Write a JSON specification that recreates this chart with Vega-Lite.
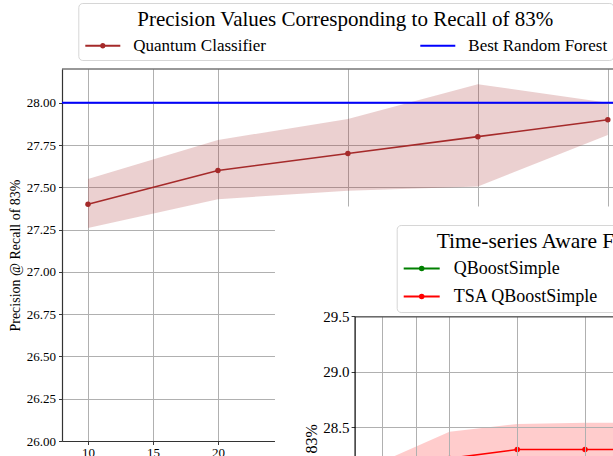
{
  "$schema": "https://vega.github.io/schema/vega-lite/v6.json",
  "width": 551,
  "height": 372,
  "autosize": {"type": "none"},
  "padding": {"left": 62, "top": 69, "right": 0, "bottom": 15},
  "background": "white",
  "config": {
    "view": {"stroke": null},
    "font": "Liberation Serif",
    "axis": {
      "labelFont": "Liberation Serif",
      "titleFont": "Liberation Serif",
      "labelColor": "#000",
      "titleColor": "#000",
      "titleFontWeight": "normal",
      "tickColor": "#222",
      "tickSize": 3.5,
      "tickWidth": 0.9,
      "gridColor": "#b0b0b0",
      "gridWidth": 1,
      "gridOpacity": 1
    },
    "legend": {
      "labelFont": "Liberation Serif",
      "titleFont": "Liberation Serif",
      "titleFontWeight": "normal",
      "labelColor": "#000",
      "titleColor": "#000"
    }
  },
  "datasets": {
    "main": [
      {"k": 10, "series": "Quantum Classifier", "mean": 27.40, "lo": 27.26, "hi": 27.55},
      {"k": 20, "series": "Quantum Classifier", "mean": 27.60, "lo": 27.43, "hi": 27.78},
      {"k": 30, "series": "Quantum Classifier", "mean": 27.70, "lo": 27.48, "hi": 27.905},
      {"k": 40, "series": "Quantum Classifier", "mean": 27.80, "lo": 27.505, "hi": 28.11},
      {"k": 50, "series": "Quantum Classifier", "mean": 27.90, "lo": 27.81, "hi": 28.00}
    ],
    "rf": [
      {"series": "Best Random Forest", "value": 28.0}
    ],
    "inset": [
      {"k": 10, "series": "QBoostSimple", "mean": 27.60, "lo": 27.45, "hi": 27.75},
      {"k": 20, "series": "QBoostSimple", "mean": 27.70, "lo": 27.55, "hi": 27.85},
      {"k": 30, "series": "QBoostSimple", "mean": 27.80, "lo": 27.65, "hi": 27.95},
      {"k": 40, "series": "QBoostSimple", "mean": 27.85, "lo": 27.70, "hi": 28.00},
      {"k": 50, "series": "QBoostSimple", "mean": 27.90, "lo": 27.75, "hi": 28.05},
      {"k": 10, "series": "TSA QBoostSimple", "mean": 28.08, "lo": 27.85, "hi": 28.19},
      {"k": 20, "series": "TSA QBoostSimple", "mean": 28.22, "lo": 28.00, "hi": 28.46},
      {"k": 30, "series": "TSA QBoostSimple", "mean": 28.30, "lo": 28.08, "hi": 28.53},
      {"k": 40, "series": "TSA QBoostSimple", "mean": 28.30, "lo": 28.08, "hi": 28.54},
      {"k": 50, "series": "TSA QBoostSimple", "mean": 28.30, "lo": 28.08, "hi": 28.54}
    ]
  },
  "layer": [
    {
      "layer": [
        {
          "data": {"name": "main"},
          "mark": {"type": "area", "color": "#a52a2a", "opacity": 0.22},
          "encoding": {
            "x": {"field": "k", "type": "quantitative",
              "scale": {"domain": [8, 50.4], "nice": false, "zero": false},
              "axis": {"values": [10, 15, 20, 30, 40, 50], "grid": true, "title": null, "labelFontSize": 13, "labelPadding": 2, "domainColor": "#333", "domainWidth": 1.2, "labelFlush": false, "zindex": 0}},
            "y": {"field": "lo", "type": "quantitative",
              "scale": {"domain": [26, 28.2], "nice": false, "zero": false},
              "axis": {"values": [26, 26.25, 26.5, 26.75, 27, 27.25, 27.5, 27.75, 28], "format": ".2f", "grid": true, "title": "Precision @ Recall of 83%", "titleFontSize": 14, "titlePadding": 4, "labelFontSize": 13, "labelPadding": 3, "domainColor": "#333", "domainWidth": 1.2, "zindex": 0}},
            "y2": {"field": "hi"}
          }
        },
        {
          "data": {"name": "main"},
          "mark": {"type": "line", "strokeWidth": 1.6, "point": {"filled": true, "size": 30}},
          "encoding": {
            "x": {"field": "k", "type": "quantitative"},
            "y": {"field": "mean", "type": "quantitative"},
            "color": {"field": "series", "type": "nominal",
              "scale": {"domain": ["Quantum Classifier", "Best Random Forest"], "range": ["#a52a2a", "#0000ff"]},
              "legend": {
                "orient": "none", "legendX": 16.3, "legendY": -66,
                "title": "Precision Values Corresponding to Recall of 83%",
                "titleAnchor": "middle", "titleFontSize": 21, "titlePadding": -3, "titleLimit": 2000,
                "titleFont": "Liberation Serif",
                "labelFont": "Liberation Serif", "labelFontSize": 17, "labelOffset": 12, "labelLimit": 1000,
                "columns": 2, "columnPadding": 150,
                "symbolType": "stroke", "symbolSize": 1225, "symbolStrokeWidth": 2,
                "padding": 6, "strokeColor": "#d6d6d6", "fillColor": "white", "cornerRadius": 4,
                "zindex": 1,
                "encode": {
                  "symbols": {
                    "update": {
                      "shape": [{"test": "datum.label === 'Quantum Classifier'", "value": "M-1,0H1M0.1,0A0.1,0.1,0,1,1,-0.1,0A0.1,0.1,0,1,1,0.1,0Z"}, {"value": "stroke"}],
                      "fill": [{"test": "datum.label === 'Quantum Classifier'", "value": "#a52a2a"}, {"value": "transparent"}]
                    }
                  }
                }
              }}
          }
        },
        {
          "data": {"name": "rf"},
          "mark": {"type": "rule", "strokeWidth": 2},
          "encoding": {
            "y": {"field": "value", "type": "quantitative"},
            "color": {"field": "series", "type": "nominal"}
          }
        },
        {
          "data": {"name": "rf"},
          "mark": {"type": "rule", "color": "#333", "strokeWidth": 1.2},
          "encoding": {"y": {"datum": 28.2}}
        }
      ]
    },
    {
      "layer": [
        {
          "data": {"name": "rf"},
          "mark": {"type": "rect", "color": "#777", "fillOpacity": 0, "strokeOpacity": 0.04, "strokeWidth": 28},
          "encoding": {"x": {"datum": -5.75}, "x2": {"datum": 80}, "y": {"datum": 30.49}, "y2": {"datum": 20}}
        },
        {
          "data": {"name": "rf"},
          "mark": {"type": "rect", "color": "#777", "fillOpacity": 0, "strokeOpacity": 0.05, "strokeWidth": 16},
          "encoding": {"x": {"datum": -5.75}, "x2": {"datum": 80}, "y": {"datum": 30.49}, "y2": {"datum": 20}}
        },
        {
          "data": {"name": "rf"},
          "mark": {"type": "rect", "color": "#777", "fillOpacity": 0, "strokeOpacity": 0.06, "strokeWidth": 7},
          "encoding": {"x": {"datum": -5.75}, "x2": {"datum": 80}, "y": {"datum": 30.49}, "y2": {"datum": 20}}
        },
        {
          "data": {"name": "rf"},
          "mark": {"type": "rect", "color": "white"},
          "encoding": {"x": {"datum": -5.75}, "x2": {"datum": 80}, "y": {"datum": 30.49}, "y2": {"datum": 20}}
        },
        {
          "data": {"name": "inset"},
          "transform": [{"filter": "datum.series === 'TSA QBoostSimple'"}],
          "mark": {"type": "area", "color": "#ff0000", "opacity": 0.2},
          "encoding": {
            "x": {"field": "k", "type": "quantitative",
              "scale": {"domain": [6, 50], "range": [292.6, 590.8], "nice": false, "zero": false},
              "axis": {"orient": "top", "offset": -247.3, "values": [10, 15, 20, 30, 40, 50], "grid": true, "labels": false, "ticks": false, "domain": true, "domainColor": "#555", "domainWidth": 1.2, "title": null, "zindex": 1}},
            "y": {"field": "lo", "type": "quantitative",
              "scale": {"domain": [26, 29.5], "range": [635.8, 247.3], "nice": false, "zero": false},
              "axis": {"orient": "left", "offset": -292.6, "values": [26, 26.5, 27, 27.5, 28, 28.5, 29, 29.5], "format": ".1f", "grid": true, "title": "Precision @ Recall of 83%", "titleFontSize": 16, "titlePadding": 3, "labelFontSize": 15, "labelPadding": 2, "domainColor": "#000", "domainWidth": 1.2, "zindex": 1}},
            "y2": {"field": "hi"}
          }
        },
        {
          "data": {"name": "inset"},
          "transform": [{"filter": "datum.series === 'QBoostSimple'"}],
          "mark": {"type": "area", "color": "#008000", "opacity": 0.2},
          "encoding": {
            "x": {"field": "k", "type": "quantitative"},
            "y": {"field": "lo", "type": "quantitative"},
            "y2": {"field": "hi"}
          }
        },
        {
          "data": {"name": "inset"},
          "mark": {"type": "line", "strokeWidth": 1.6, "point": {"filled": true, "size": 30}},
          "encoding": {
            "x": {"field": "k", "type": "quantitative"},
            "y": {"field": "mean", "type": "quantitative"},
            "color": {"field": "series", "type": "nominal",
              "scale": {"domain": ["QBoostSimple", "TSA QBoostSimple"], "range": ["#008000", "#ff0000"]},
              "legend": {
                "orient": "none", "legendX": 334.7, "legendY": 156,
                "title": "Time-series Aware Formulation",
                "titleAnchor": "start", "titleFontSize": 21.5, "titlePadding": -3, "titleLimit": 2000,
                "titleFont": "Liberation Serif",
                "labelFont": "Liberation Serif", "labelFontSize": 18, "labelOffset": 13, "rowPadding": -9, "labelLimit": 1000,
                "symbolType": "M-1,0H1M0.1,0A0.1,0.1,0,1,1,-0.1,0A0.1,0.1,0,1,1,0.1,0Z", "symbolSize": 1296, "symbolStrokeWidth": 2,
                "padding": 6, "strokeColor": "#d6d6d6", "fillColor": "white", "cornerRadius": 4,
                "zindex": 1,
                "encode": {
                  "title": {"update": {"dx": {"value": 34}}},
                  "symbols": {"update": {"fill": [{"test": "datum.label === 'QBoostSimple'", "value": "#008000"}, {"value": "#ff0000"}]}}
                }
              }}
          }
        }
      ]
    }
  ],
  "resolve": {"scale": {"x": "independent", "y": "independent", "color": "independent"}}
}
